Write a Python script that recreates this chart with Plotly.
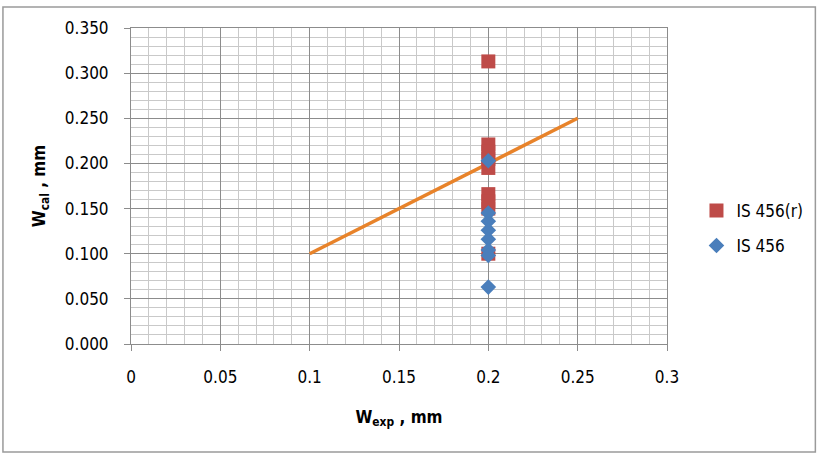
import plotly.graph_objects as go

# Data
is456r_x = [0.2, 0.2, 0.2, 0.2, 0.2, 0.2, 0.2, 0.2, 0.2]
is456r_y = [0.313, 0.221, 0.213, 0.205, 0.195, 0.166, 0.158, 0.150, 0.100]
is456_x = [0.2, 0.2, 0.2, 0.2, 0.2, 0.2, 0.2, 0.2]
is456_y = [0.203, 0.145, 0.136, 0.126, 0.116, 0.104, 0.098, 0.063]
line_x = [0.1, 0.25]
line_y = [0.1, 0.25]

FONT = "DejaVu Sans Condensed, DejaVu Sans, sans-serif"
MAJOR = "#8C8C8C"
MINOR = "#C9C9C9"

fig = go.Figure()
fig.add_trace(go.Scatter(x=line_x, y=line_y, mode="lines",
                         line=dict(color="#E8832A", width=3.5), showlegend=False,
                         hoverinfo="skip"))
fig.add_trace(go.Scatter(x=is456r_x, y=is456r_y, mode="markers", name="IS 456(r)",
                         legendgroup="a",
                         marker=dict(symbol="square", size=14, color="#BE4B48")))
fig.add_trace(go.Scatter(x=is456_x, y=is456_y, mode="markers", name="IS 456",
                         legendgroup="b",
                         marker=dict(symbol="diamond", size=12, color="#4A7EBB")))

axis_common = dict(
    showline=True, linecolor=MAJOR, linewidth=1, mirror=True,
    showgrid=True, gridcolor=MAJOR, gridwidth=1,
    zeroline=False, ticks="outside", ticklen=6, tickcolor=MAJOR,
    tickfont=dict(family=FONT, size=17, color="#000000"),
)

fig.update_xaxes(range=[0, 0.3], dtick=0.05, tick0=0,
                 minor=dict(dtick=0.01, showgrid=True, gridcolor=MINOR, gridwidth=1, ticks=""),
                 title=dict(text="<b>W<sub>exp</sub> , mm</b>",
                            font=dict(family=FONT, size=17, color="#000000"), standoff=24),
                 ticklabelstandoff=12,
                 **axis_common)
fig.update_yaxes(range=[0, 0.35], dtick=0.05, tick0=0, tickformat=".3f",
                 minor=dict(dtick=0.01, showgrid=True, gridcolor=MINOR, gridwidth=1, ticks=""),
                 title=dict(text="<b>W<sub>cal</sub> , mm</b>",
                            font=dict(family=FONT, size=17, color="#000000"), standoff=14),
                 ticklabelstandoff=12,
                 **axis_common)

# outer chart border
fig.add_shape(type="rect", xref="paper", yref="paper",
              x0=-0.2389, x1=1.2768, y0=-0.3418, y1=1.0665,
              line=dict(color="#9A9A9A", width=1.5), layer="below")

fig.update_layout(
    width=818, height=460,
    margin=dict(l=131, r=151, t=28, b=116, autoexpand=False),
    paper_bgcolor="white", plot_bgcolor="white",
    font=dict(family=FONT, size=16, color="#000000"),
    legend=dict(x=1.055, y=0.366, xanchor="left", yanchor="middle",
                font=dict(family=FONT, size=17, color="#000000"),
                tracegroupgap=10, itemwidth=30, bgcolor="rgba(0,0,0,0)"),
    showlegend=True,
)

fig.write_html("out.html")
